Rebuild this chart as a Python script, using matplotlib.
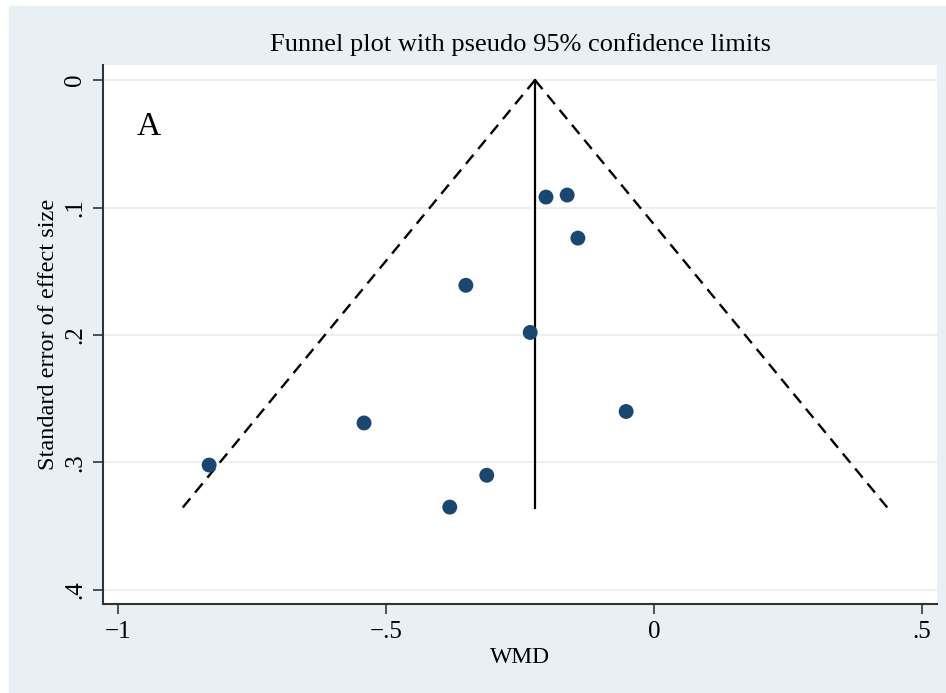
import numpy as np
import matplotlib.pyplot as plt

plt.rcParams['font.family'] = ['Liberation Serif', 'DejaVu Serif']

# study effects (WMD) and their standard errors
wmd = [-0.2015, -0.162, -0.142, -0.351, -0.231, -0.052, -0.541, -0.830, -0.312, -0.381]
se = [0.0918, 0.0902, 0.124, 0.161, 0.198, 0.260, 0.269, 0.302, 0.310, 0.335]

pooled = -0.222
se_max = 0.336

xticks = [-1, -0.5, 0, 0.5]
xticklabels = ['\u22121', '\u2212.5', '0', '.5']
yticks = [0, 0.1, 0.2, 0.3, 0.4]
yticklabels = ['0', '.1', '.2', '.3', '.4']

bg = '#e8f0f3'
navy = '#1a476f'

fig = plt.figure(figsize=(9.46, 6.93), dpi=100, facecolor='white')
# light blue graph region with a thin white margin at the top/left
fig.patches.append(plt.Rectangle((9 / 946, 0), 1 - 9 / 946, 1 - 6 / 693,
                                 transform=fig.transFigure, color=bg, zorder=-10))

ax = fig.add_axes([103 / 946, 1 - 604 / 693, 834 / 946, 539 / 693])
ax.set_facecolor('white')

# pseudo 95% confidence limits
s = np.array([0, se_max])
ax.plot(pooled - 1.96 * s, s, color='black', ls=(0, (5, 3.2)), lw=1.7)
ax.plot(pooled + 1.96 * s, s, color='black', ls=(0, (5, 3.2)), lw=1.7)
ax.plot([pooled, pooled], [0, se_max], color='black', lw=1.6)

ax.scatter(wmd, se, s=115, color=navy, zorder=3, edgecolors='none')

ax.set_xlim(-1.028, 0.528)
ax.set_ylim(0.411, -0.0118)

ax.set_xticks(xticks)
ax.set_xticklabels(xticklabels, fontsize=18)
ax.set_yticks(yticks)
ax.set_yticklabels(yticklabels, fontsize=18, rotation=90, va='center')
ax.tick_params(direction='out', length=7, width=1.2, color='#333333', pad=5)

ax.grid(axis='y', color='#eaf1f2', lw=1.5)
ax.set_axisbelow(True)

for side in ['top', 'right']:
    ax.spines[side].set_visible(False)
for side in ['left', 'bottom']:
    ax.spines[side].set_color('#333333')
    ax.spines[side].set_linewidth(1.5)

ax.set_xlabel('WMD', fontsize=17, labelpad=3)
ax.set_ylabel('Standard error of effect size', fontsize=17.5, labelpad=4)
ax.set_title('Funnel plot with pseudo 95% confidence limits', fontsize=19, pad=10)

ax.text(0.04, 0.885, 'A', transform=ax.transAxes, fontsize=24, va='center', ha='left')

fig.savefig('out.png', dpi=100, facecolor=fig.get_facecolor())
